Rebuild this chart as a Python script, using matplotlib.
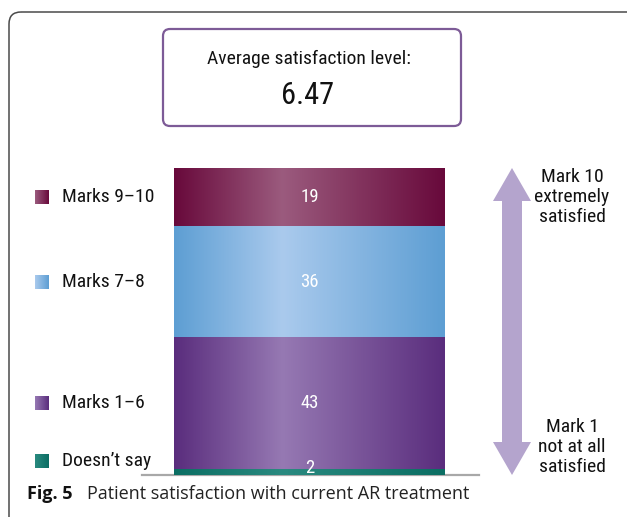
import numpy as np
import matplotlib
matplotlib.use("Agg")
import matplotlib.pyplot as plt
from matplotlib.patches import FancyBboxPatch, Polygon
from matplotlib.colors import LinearSegmentedColormap
from matplotlib import font_manager
from matplotlib.font_manager import FontProperties

# ---------------- data ----------------
categories = ["Doesn\u2019t say", "Marks 1\u20136", "Marks 7\u20138", "Marks 9\u201310"]
values = [2, 43, 36, 19]
edge_colors = ["#0b6e63", "#5a2d7d", "#5d9ed3", "#68093b"]
mid_colors = ["#2a8a80", "#9679b3", "#aacaed", "#9b5b7e"]
average_label = "Average satisfaction level:"
average_value = "6.47"
top_note = "Mark 10\nextremely\nsatisfied"
bottom_note = "Mark 1\nnot at all\nsatisfied"
caption_bold = "Fig. 5"
caption_text = "Patient satisfaction with current AR treatment"

# pick a condensed font file if available
cond_file = None
prefs = ["robotocondensed-regular", "liberationsansnarrow-regular",
         "dejavusanscondensed.ttf", "notosanscondensed-regular",
         "opensans_condensed-regular", "opensanscondensed"]
files = [f.fname for f in font_manager.fontManager.ttflist]
for p in prefs:
    hits = [f for f in files if p in f.lower().replace(" ", "").replace("_", "")
            or p in f.lower()]
    if hits:
        cond_file = hits[0]
        break

def cfp(size):
    if cond_file:
        return FontProperties(fname=cond_file, size=size)
    return FontProperties(family="DejaVu Sans", stretch="condensed", size=size)

names = {f.name for f in font_manager.fontManager.ttflist}
CAP = "Open Sans" if "Open Sans" in names else "DejaVu Sans"

W, H = 627, 517
fig = plt.figure(figsize=(W / 100, H / 100), dpi=100)

ov = fig.add_axes([0, 0, 1, 1])
ov.set_xlim(0, W)
ov.set_ylim(H, 0)
ov.axis("off")
ov.set_zorder(0)

# outer frame
ov.add_patch(FancyBboxPatch((9, 12), W + 40, H + 40,
                            boxstyle="round,pad=0,rounding_size=12",
                            fc="none", ec="#4a4a4a", lw=1.1))

# top box
ov.add_patch(FancyBboxPatch((163, 29), 298, 97,
                            boxstyle="round,pad=0,rounding_size=7",
                            fc="white", ec="#7d5b97", lw=1.6))
ov.text(309, 59, average_label, fontproperties=cfp(14),
        ha="center", va="center", color="#111111")
ov.text(308, 95, average_value, fontproperties=cfp(22),
        ha="center", va="center", color="#111111")

# bar axes
bx0, bx1, by0, by1 = 174, 445, 168, 475
ax = fig.add_axes([bx0 / W, (H - by1) / H, (bx1 - bx0) / W, (by1 - by0) / H])
ax.axis("off")
ax.set_zorder(2)

def gradient_cmap(edge, mid):
    return LinearSegmentedColormap.from_list("g", [(0, edge), (0.4, mid), (1, edge)])

grad = np.linspace(0, 1, 256).reshape(1, -1)
bottoms = np.concatenate([[0], np.cumsum(values)[:-1]])
bars = ax.bar([0] * len(values), values, bottom=bottoms, width=1.0,
              color=edge_colors, edgecolor="none")
for rect, ec, mc, v, b in zip(bars.patches, edge_colors, mid_colors, values, bottoms):
    im = ax.imshow(grad, aspect="auto", cmap=gradient_cmap(ec, mc),
                   extent=(-0.5, 0.5, b, b + v), zorder=3)
    im.set_clip_path(rect)
    yc = b + v / 2 if v > 4 else b + v / 2 + 1.2
    ax.text(0, yc, str(v), fontproperties=cfp(13.5), color="white",
            ha="center", va="center", zorder=5)
ax.set_ylim(0, sum(values))
ax.set_xlim(-0.5, 0.5)

# baseline
ov.plot([142, 479], [474.5, 474.5], color="#a8a8a8", lw=1.6, zorder=1)

# legend (positions from data centers)
px_per = (by1 - by0) / sum(values)
for cat, ec, mc, v, b in zip(categories, edge_colors, mid_colors, values, bottoms):
    center = b + v / 2
    ypx = by1 - center * px_per
    ypx = min(ypx, by1 - 14)
    cm = LinearSegmentedColormap.from_list("s", [mc, ec])
    ov.imshow(grad, aspect="auto", cmap=cm,
              extent=(35, 49, ypx + 7, ypx - 7), zorder=2)
    ov.text(62, ypx, cat, fontproperties=cfp(14), ha="left",
            va="center", color="#111111")
ov.set_xlim(0, W)
ov.set_ylim(H, 0)

# double arrow
cx, t, bt = 512, 168, 475
sw, hw, hl = 10, 19, 33
pts = [(cx, t), (cx + hw, t + hl), (cx + sw, t + hl), (cx + sw, bt - hl),
       (cx + hw, bt - hl), (cx, bt), (cx - hw, bt - hl), (cx - sw, bt - hl),
       (cx - sw, t + hl), (cx - hw, t + hl)]
ov.add_patch(Polygon(pts, closed=True, fc="#b4a4cd", ec="none"))

ov.text(572, 197, top_note, fontproperties=cfp(14), ha="center",
        va="center", linespacing=1.12, color="#111111")
ov.text(572, 447, bottom_note, fontproperties=cfp(14), ha="center",
        va="center", linespacing=1.12, color="#111111")

# caption
ov.text(27, 494, caption_bold, family=CAP, fontsize=13, fontweight="bold",
        ha="left", va="center", color="#111111")
ov.text(87, 494, caption_text, family=CAP, fontsize=13, ha="left",
        va="center", color="#222222")

fig.savefig("out.png", dpi=100)
